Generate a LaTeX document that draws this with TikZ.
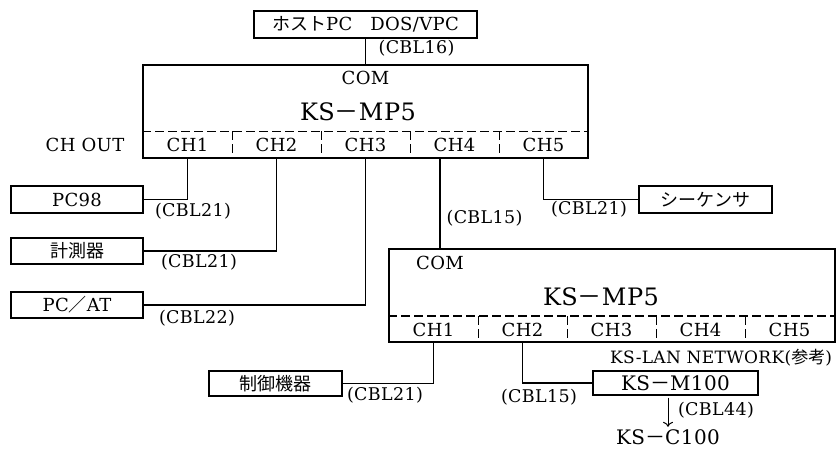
\documentclass[tikz,border=0pt]{standalone}
\usepackage{fontspec}
\usetikzlibrary{arrows.meta}
\setmainfont{DejaVu Serif}[LetterSpace=2]
\newfontfamily\jp{Noto Sans CJK JP}
\newcommand{\zm}{{\jp －}}
\tikzset{
  dev/.style={draw, line width=1.3pt, inner sep=0pt},
  port/.style={inner sep=0pt, minimum width=89pt, minimum height=26pt},
  cbl/.style={inner sep=0pt, font=\fontsize{17.5}{17.5}\selectfont},
  big/.style={inner sep=0pt, font=\fontsize{24}{24}\selectfont},
  mid/.style={inner sep=0pt, font=\fontsize{20}{20}\selectfont},
  sep/.style={dash pattern=on 9pt off 4pt, line width=1.3pt},
}
\begin{document}
\begin{tikzpicture}[x=1pt, y=-1pt, line width=1.2pt, font=\fontsize{18}{18}\selectfont]
  \useasboundingbox (0,0) rectangle (836,448);
  % units
  \draw
    (365.5,24.5) node[dev, minimum width=223pt, minimum height=27pt] (host) {{\jp ホスト}PC{\jp 　}DOS/VPC}
    (365.5,111.5) node[dev, minimum width=445pt, minimum height=93pt] (mpa) {}
    (612,295.5) node[dev, minimum width=446pt, minimum height=93pt] (mpb) {}
    (77,199.5) node[dev, minimum width=132pt, minimum height=27pt] (pc98) {PC98}
    (77,251) node[dev, minimum width=132pt, minimum height=26pt] (meter) {{\jp 計測器}}
    (77,305) node[dev, minimum width=132pt, minimum height=26pt] (pcat) {PC{\jp ／}AT}
    (705.5,199.5) node[dev, minimum width=133pt, minimum height=27pt] (seq) {{\jp シーケンサ}}
    (275.5,383.5) node[dev, minimum width=133pt, minimum height=25pt] (ctrl) {{\jp 制御機器}}
    (675.5,383) node[dev, mid, minimum width=165pt, minimum height=24pt] (m100) {KS\zm M100}
    (668,437) node[mid] (c100) {KS\zm C100};
  % labels inside the units
  \draw
    (365.5,78) node (coma) {COM}
    (358,112) node[big] (namea) {KS\zm MP5}
    (440,263) node (comb) {COM}
    (601,297) node[big] (nameb) {KS\zm MP5}
    (85,145) node (chout) {CH OUT}
    (721,358) node[inner sep=0pt, font=\fontsize{17}{17}\selectfont] (lan) {KS-LAN NETWORK({\jp 参考})};
  % channels
  \draw
    (187.5,145) node[port] (a1) {CH1}
    (276.5,145) node[port] (a2) {CH2}
    (365.5,145) node[port] (a3) {CH3}
    (454.5,145) node[port] (a4) {CH4}
    (543.5,145) node[port] (a5) {CH5}
    (433.5,329.5) node[port] (b1) {CH1}
    (522.5,329.5) node[port] (b2) {CH2}
    (611.5,329.5) node[port] (b3) {CH3}
    (700.5,329.5) node[port] (b4) {CH4}
    (789.5,329.5) node[port] (b5) {CH5};
  \begin{scope}[sep]
    \draw (mpa.west |- a1.north) to (mpa.east |- a1.north);
    \draw (a1.north east) to (a1.south east);
    \draw (a2.north east) to (a2.south east);
    \draw (a3.north east) to (a3.south east);
    \draw (a4.north east) to (a4.south east);
    \draw (mpb.west |- b1.north) to (mpb.east |- b1.north);
    \draw (b1.north east) to (b1.south east);
    \draw (b2.north east) to (b2.south east);
    \draw (b3.north east) to (b3.south east);
    \draw (b4.north east) to (b4.south east);
  \end{scope}
  % cables
  \begin{scope}[-]
    \draw (host) to (mpa);
    \draw (a1.south) |- (pc98);
    \draw (a2.south) |- (meter);
    \draw (a3.south) |- (pcat);
    \draw (comb |- a4.south) to (comb |- mpb.north);
    \draw (a5.south) |- (seq);
    \draw (b1.south) |- (ctrl);
    \draw (b2.south) |- (m100);
    \draw[-{To[length=5pt, width=10pt]}, line width=1pt, shorten <=2pt, shorten >=2pt] (m100.south -| c100) to (c100.north);
  \end{scope}
  \draw
    (378,48) node[cbl, anchor=west] (l16) {(CBL16)}
    (193,211) node[cbl] (l21a) {(CBL21)}
    (199,262) node[cbl] (l21b) {(CBL21)}
    (197,318) node[cbl] (l22) {(CBL22)}
    (446,218) node[cbl, anchor=west] (l15a) {(CBL15)}
    (589,209) node[cbl] (l21c) {(CBL21)}
    (385,395) node[cbl] (l21d) {(CBL21)}
    (539,397) node[cbl] (l15b) {(CBL15)}
    (716,410) node[cbl] (l44) {(CBL44)};
\end{tikzpicture}
\end{document}
